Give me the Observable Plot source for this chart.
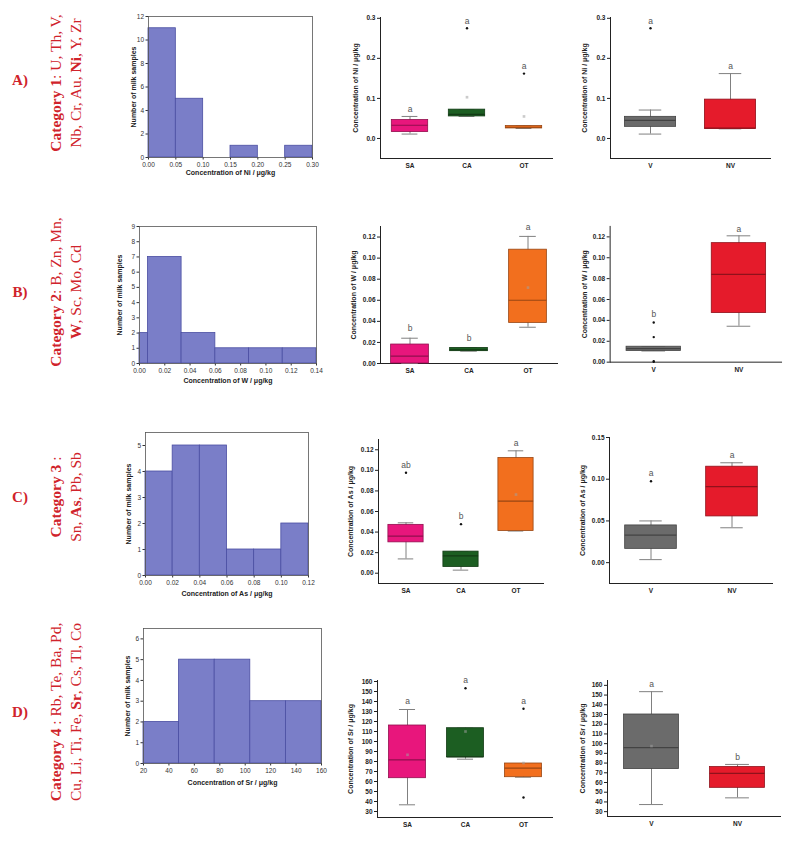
<!DOCTYPE html>
<html><head><meta charset="utf-8">
<script src="https://cdn.jsdelivr.net/npm/d3@7"></script>
<script src="https://cdn.jsdelivr.net/npm/@observablehq/plot@0.6"></script>
<style>
body{margin:0;background:#fff;width:787px;height:847px;position:relative;overflow:hidden;font-family:"Liberation Sans",Arial,sans-serif}
.panel{position:absolute}
.rowlab{position:absolute;color:#d0232b;font-family:"Liberation Serif","Times New Roman",serif;font-weight:bold;font-size:15px;transform:translate(-50%,-50%)}
.cat{position:absolute;color:#d0232b;font-family:"Liberation Serif","Times New Roman",serif;font-size:15.5px;line-height:20px;white-space:nowrap;text-align:center;transform:translate(-50%,-50%) rotate(-90deg)}
</style></head><body>
<script>
// ---------- row labels ----------
const rowLetters = ["A)", "B)", "C)", "D)"];
const catLine1 = [["Category 1", ": U, Th, V,"], ["Category 2", ": B, Zn, Mn,"], ["Category 3", " :"], ["Category 4", " : Rb, Te, Ba, Pd,"]];
const catLine2 = [["Nb, Cr, Au, ", "Ni", ", Y, Zr"], ["", "W", ", Sc, Mo, Cd"], ["Sn, ", "As", ", Pb, Sb"], ["Cu, Li, Ti, Fe, ", "Sr", ", Cs, Tl, Co"]];

// ---------- histograms ----------
const niBins = [0, 0.05, 0.10, 0.15, 0.20, 0.25, 0.30];
const niCounts = [11, 5, 0, 1, 0, 1];
const wBins = [0, 0.0067, 0.0333, 0.06, 0.0867, 0.1133, 0.14];
const wCounts = [2, 7, 2, 1, 1, 1];
const asBins = [0, 0.02, 0.04, 0.06, 0.08, 0.10, 0.12];
const asCounts = [4, 5, 5, 1, 1, 2];
const srBins = [20, 48, 76, 104, 132, 160];
const srCounts = [2, 5, 5, 3, 3];

// ---------- box plots ----------
const regionCats = ["SA", "CA", "OT"];
const vegCats = ["V", "NV"];
const regionColors = ["#e8167c", "#1c5e22", "#f26f1e"];
const vegColors = ["#6b6b6b", "#e51b2b"];

// Ni by region
const niRegQ1 = [0.016, 0.055, 0.025], niRegMed = [0.033, 0.060, 0.028], niRegQ3 = [0.046, 0.072, 0.031];
const niRegLo = [0.011, 0.055, 0.025], niRegHi = [0.055, 0.072, 0.031];
const niRegMean = [null, 0.103, 0.055];
const niRegOut = [[], [0.275], [0.162]];
const niRegLet = ["a", "a", "a"], niRegLetY = [0.074, 0.292, 0.180];
// Ni by V/NV
const niVegQ1 = [0.029, 0.024], niVegMed = [0.045, 0.026], niVegQ3 = [0.054, 0.097];
const niVegLo = [0.011, 0.024], niVegHi = [0.071, 0.162];
const niVegMean = [null, null];
const niVegOut = [[0.275], []];
const niVegLet = ["a", "a"], niVegLetY = [0.293, 0.180];

// W by region
const wRegQ1 = [0.000, 0.0117, 0.0385], wRegMed = [0.007, 0.013, 0.060], wRegQ3 = [0.018, 0.0148, 0.108];
const wRegLo = [0.000, 0.0117, 0.0344], wRegHi = [0.024, 0.0148, 0.1206];
const wRegMean = [null, null, 0.072];
const wRegOut = [[], [], []];
const wRegLet = ["b", "b", "a"], wRegLetY = [0.033, 0.024, 0.129];
// W by V/NV
const wVegQ1 = [0.0107, 0.047], wVegMed = [0.013, 0.084], wVegQ3 = [0.0148, 0.114];
const wVegLo = [0.0107, 0.0344], wVegHi = [0.0148, 0.121];
const wVegMean = [null, null];
const wVegOut = [[0.038, 0.024, 0.001, 0.0003], []];
const wVegLet = ["b", "a"], wVegLetY = [0.046, 0.127];

// As by region
const asRegQ1 = [0.030, 0.006, 0.041], asRegMed = [0.036, 0.0168, 0.070], asRegQ3 = [0.047, 0.021, 0.112];
const asRegLo = [0.0139, 0.003, 0.041], asRegHi = [0.049, 0.021, 0.119];
const asRegMean = [null, null, 0.0765];
const asRegOut = [[0.0977], [0.0477], []];
const asRegLet = ["ab", "b", "a"], asRegLetY = [0.105, 0.0555, 0.126];
// As by V/NV
const asVegQ1 = [0.0165, 0.0554], asVegMed = [0.033, 0.091], asVegQ3 = [0.0446, 0.115];
const asVegLo = [0.0036, 0.0418], asVegHi = [0.050, 0.1197];
const asVegMean = [null, null];
const asVegOut = [[0.0976], []];
const asVegLet = ["a", "a"], asVegLetY = [0.107, 0.129];

// Sr by region
const srRegQ1 = [63.3, 84.3, 64.3], srRegMed = [81.7, 84.6, 73.3], srRegQ3 = [116, 113.3, 78];
const srRegLo = [36.7, 82.3, 64.3], srRegHi = [132, 113.3, 78];
const srRegMean = [86.7, 110, 78.5];
const srRegOut = [[], [153.3], [132.7, 44]];
const srRegLet = ["a", "a", "a"], srRegLetY = [140, 161, 140.3];
// Sr by V/NV
const srVegQ1 = [73.8, 54.5], srVegMed = [96, 69.3], srVegQ3 = [130, 75.9];
const srVegLo = [37.3, 44.2], srVegHi = [153.5, 78.6];
const srVegMean = [97.5, null];
const srVegOut = [[], []];
const srVegLet = ["a", "b"], srVegLetY = [160.7, 86.4];

const FONT = "'Liberation Sans', Arial, sans-serif";

function place(node, left, top) {
  const d = document.createElement("div");
  d.className = "panel";
  d.style.left = left + "px";
  d.style.top = top + "px";
  d.appendChild(node);
  document.body.appendChild(d);
}

function histPanel(c) {
  const mL = 34, mR = 12, mT = 8, mB = 34;
  const data = c.counts.map((v, i) => ({x1: c.edges[i], x2: c.edges[i + 1], y: v}));
  const p = Plot.plot({
    width: c.w + mL + mR, height: c.h + mT + mB,
    marginLeft: mL, marginRight: mR, marginTop: mT, marginBottom: mB,
    style: {fontFamily: FONT, fontSize: "6.5px", color: "#333", background: "transparent", overflow: "visible"},
    x: {domain: c.xDomain, ticks: c.xTicks, tickFormat: c.xFmt, label: null, tickSize: 2.5, tickPadding: 2},
    y: {domain: c.yDomain, ticks: c.yTicks, tickFormat: "d", label: null, tickSize: 2.5, tickPadding: 2},
    marks: [
      Plot.rectY(data, {x1: "x1", x2: "x2", y: "y", fill: "#7a7ec8", stroke: "#4a4ea2", strokeWidth: 0.8}),
      Plot.frame({stroke: "#555", strokeWidth: 0.8}),
      Plot.text([c.xTitle], {text: d => d, frameAnchor: "bottom", textAnchor: "middle", dy: c.xTitleDy, fontWeight: "bold", fontSize: c.titleSize || 7, fill: "#222"}),
      Plot.text([c.yTitle], {text: d => d, frameAnchor: "left", textAnchor: "middle", dx: c.yTitleDx, rotate: -90, fontWeight: "bold", fontSize: c.titleSize || 7, fill: "#222"})
    ]
  });
  place(p, c.left - mL, c.top - mT);
}

function boxPanel(c) {
  const mL = 40, mR = 6, mT = 8, mB = 18;
  const rows = c.cats.map((k, i) => ({
    k, q1: c.q1[i], med: c.med[i], q3: c.q3[i], lo: c.lo[i], hi: c.hi[i],
    mean: c.mean[i], color: c.colors[i], dark: d3.color(c.colors[i]).darker(1.3).formatHex(),
    letter: c.letters[i], ly: c.letY[i]
  }));
  const outs = c.out.flatMap((arr, i) => arr.map(v => ({k: c.cats[i], v})));
  const step = c.w / c.cats.length;
  const boxInset = step * 0.18;
  const capInset = step * 0.5 - step * 0.64 * 0.22;
  const p = Plot.plot({
    width: c.w + mL + mR, height: c.h + mT + mB,
    marginLeft: mL, marginRight: mR, marginTop: mT, marginBottom: mB,
    style: {fontFamily: FONT, fontSize: "6.5px", fontWeight: "bold", color: "#222", background: "transparent", overflow: "visible"},
    color: {type: "identity"},
    x: {domain: c.cats, padding: 0, label: null, tickSize: 0, tickPadding: 5, line: true},
    y: {domain: c.domain, ticks: c.ticks, tickFormat: c.fmt, label: null, tickSize: 3, tickPadding: 2, line: true},
    marks: [
      Plot.ruleX(rows, {x: "k", y1: "lo", y2: "hi", stroke: "#808080", strokeWidth: 1}),
      Plot.tickY(rows, {x: "k", y: "hi", stroke: "#808080", strokeWidth: 1, insetLeft: capInset, insetRight: capInset}),
      Plot.tickY(rows, {x: "k", y: "lo", stroke: "#808080", strokeWidth: 1, insetLeft: capInset, insetRight: capInset}),
      Plot.barY(rows, {x: "k", y1: "q1", y2: "q3", fill: "color", stroke: "dark", strokeWidth: 0.8, insetLeft: boxInset, insetRight: boxInset}),
      Plot.tickY(rows, {x: "k", y: "med", stroke: "dark", strokeWidth: 1.2, insetLeft: boxInset, insetRight: boxInset}),
      Plot.dot(rows.filter(d => d.mean != null), {x: "k", y: "mean", symbol: "square", r: 1.5, fill: "#a0a0a0", fillOpacity: 0.55, stroke: "none"}),
      Plot.dot(outs, {x: "k", y: "v", r: 1.2, fill: "#111", stroke: "none"}),
      Plot.text(rows, {x: "k", y: "ly", text: "letter", fill: "#555", fontSize: 8.5, fontWeight: "normal"}),
      Plot.text([c.title], {text: d => d, frameAnchor: "left", textAnchor: "middle", dx: c.titleDx, rotate: -90, fontWeight: "bold", fontSize: 7, fill: "#222"})
    ]
  });
  place(p, c.left - mL, c.top - mT);
}

const f2 = d3.format(".2f"), f1 = d3.format(".1f");

// Row A
histPanel({left: 148, top: 16, w: 164, h: 141, edges: niBins, counts: niCounts, xDomain: [0, 0.3], xTicks: d3.range(0, 0.301, 0.05), xFmt: f2,
  yDomain: [0, 12], yTicks: d3.range(0, 13, 2), xTitle: "Concentration of Ni / μg/kg", yTitle: "Number of milk samples", xTitleDy: 17, yTitleDx: -15});
boxPanel({left: 380, top: 17, w: 172, h: 141, cats: regionCats, colors: regionColors, domain: [-0.05, 0.302], ticks: [0, 0.1, 0.2, 0.3], fmt: f1,
  q1: niRegQ1, med: niRegMed, q3: niRegQ3, lo: niRegLo, hi: niRegHi, mean: niRegMean, out: niRegOut, letters: niRegLet, letY: niRegLetY,
  title: "Concentration of Ni / μg/kg", titleDx: -25});
boxPanel({left: 610, top: 17, w: 160, h: 141, cats: vegCats, colors: vegColors, domain: [-0.05, 0.302], ticks: [0, 0.1, 0.2, 0.3], fmt: f1,
  q1: niVegQ1, med: niVegMed, q3: niVegQ3, lo: niVegLo, hi: niVegHi, mean: niVegMean, out: niVegOut, letters: niVegLet, letY: niVegLetY,
  title: "Concentration of Ni / μg/kg", titleDx: -26});

// Row B
histPanel({left: 139, top: 226, w: 177, h: 137, edges: wBins, counts: wCounts, xDomain: [0, 0.14], xTicks: d3.range(0, 0.141, 0.02), xFmt: f2,
  yDomain: [0, 9], yTicks: d3.range(0, 10), xTitle: "Concentration of W / μg/kg", yTitle: "Number of milk samples", xTitleDy: 19, yTitleDx: -20});
boxPanel({left: 380, top: 226, w: 177, h: 137, cats: regionCats, colors: regionColors, domain: [0, 0.13], ticks: d3.range(0, 0.121, 0.02), fmt: f2,
  q1: wRegQ1, med: wRegMed, q3: wRegQ3, lo: wRegLo, hi: wRegHi, mean: wRegMean, out: wRegOut, letters: wRegLet, letY: wRegLetY,
  title: "Concentration of W / μg/kg", titleDx: -27});
boxPanel({left: 610, top: 226, w: 173, h: 137, cats: vegCats, colors: vegColors, domain: [0, 0.13], ticks: d3.range(0, 0.121, 0.02), fmt: f2,
  q1: wVegQ1, med: wVegMed, q3: wVegQ3, lo: wVegLo, hi: wVegHi, mean: wVegMean, out: wVegOut, letters: wVegLet, letY: wVegLetY,
  title: "Concentration of W / μg/kg", titleDx: -26});

// Row C
histPanel({left: 145, top: 432, w: 163, h: 143, edges: asBins, counts: asCounts, xDomain: [0, 0.12], xTicks: d3.range(0, 0.121, 0.02), xFmt: f2,
  yDomain: [0, 5.5], yTicks: d3.range(0, 6), xTitle: "Concentration of As / μg/kg", yTitle: "Number of milk samples", xTitleDy: 20, yTitleDx: -17});
boxPanel({left: 378, top: 439, w: 165, h: 144, cats: regionCats, colors: regionColors, domain: [-0.01, 0.13], ticks: d3.range(0, 0.121, 0.02), fmt: f2,
  q1: asRegQ1, med: asRegMed, q3: asRegQ3, lo: asRegLo, hi: asRegHi, mean: asRegMean, out: asRegOut, letters: asRegLet, letY: asRegLetY,
  title: "Concentration of As / μg/kg", titleDx: -28});
boxPanel({left: 609, top: 437, w: 163, h: 146, cats: vegCats, colors: vegColors, domain: [-0.025, 0.15], ticks: [0, 0.05, 0.10, 0.15], fmt: f2,
  q1: asVegQ1, med: asVegMed, q3: asVegQ3, lo: asVegLo, hi: asVegHi, mean: asVegMean, out: asVegOut, letters: asVegLet, letY: asVegLetY,
  title: "Concentration of As / μg/kg", titleDx: -27});

// Row D
histPanel({left: 143, top: 628, w: 178, h: 135, edges: srBins, counts: srCounts, xDomain: [20, 160], xTicks: d3.range(20, 161, 20), xFmt: d3.format("d"),
  yDomain: [0, 6.5], yTicks: d3.range(0, 7), xTitle: "Concentration of Sr / μg/kg", yTitle: "Number of milk samples", xTitleDy: 21, yTitleDx: -16});
boxPanel({left: 377, top: 680, w: 175, h: 137, cats: regionCats, colors: regionColors, domain: [24, 161], ticks: d3.range(30, 161, 10), fmt: d3.format("d"),
  q1: srRegQ1, med: srRegMed, q3: srRegQ3, lo: srRegLo, hi: srRegHi, mean: srRegMean, out: srRegOut, letters: srRegLet, letY: srRegLetY,
  title: "Concentration of Sr / μg/kg", titleDx: -27});
boxPanel({left: 607, top: 680, w: 173, h: 136, cats: vegCats, colors: vegColors, domain: [25, 165], ticks: d3.range(30, 161, 10), fmt: d3.format("d"),
  q1: srVegQ1, med: srVegMed, q3: srVegQ3, lo: srVegLo, hi: srVegHi, mean: srVegMean, out: srVegOut, letters: srVegLet, letY: srVegLetY,
  title: "Concentration of Sr / μg/kg", titleDx: -25});

// Row labels and category text
const rowY = [80, 292, 497, 712];
const catY = [83, 292, 497, 712];
rowLetters.forEach((t, i) => {
  const d = document.createElement("div");
  d.className = "rowlab";
  d.style.left = "20px"; d.style.top = rowY[i] + "px";
  d.textContent = t;
  document.body.appendChild(d);
  const c = document.createElement("div");
  c.className = "cat";
  c.style.left = "66px"; c.style.top = catY[i] + "px";
  const l1 = document.createElement("div");
  const b1 = document.createElement("b"); b1.textContent = catLine1[i][0];
  l1.appendChild(b1); l1.appendChild(document.createTextNode(catLine1[i][1]));
  const l2 = document.createElement("div");
  l2.appendChild(document.createTextNode(catLine2[i][0]));
  const b2 = document.createElement("b"); b2.textContent = catLine2[i][1];
  l2.appendChild(b2); l2.appendChild(document.createTextNode(catLine2[i][2]));
  c.appendChild(l1); c.appendChild(l2);
  document.body.appendChild(c);
});
</script></body></html>
